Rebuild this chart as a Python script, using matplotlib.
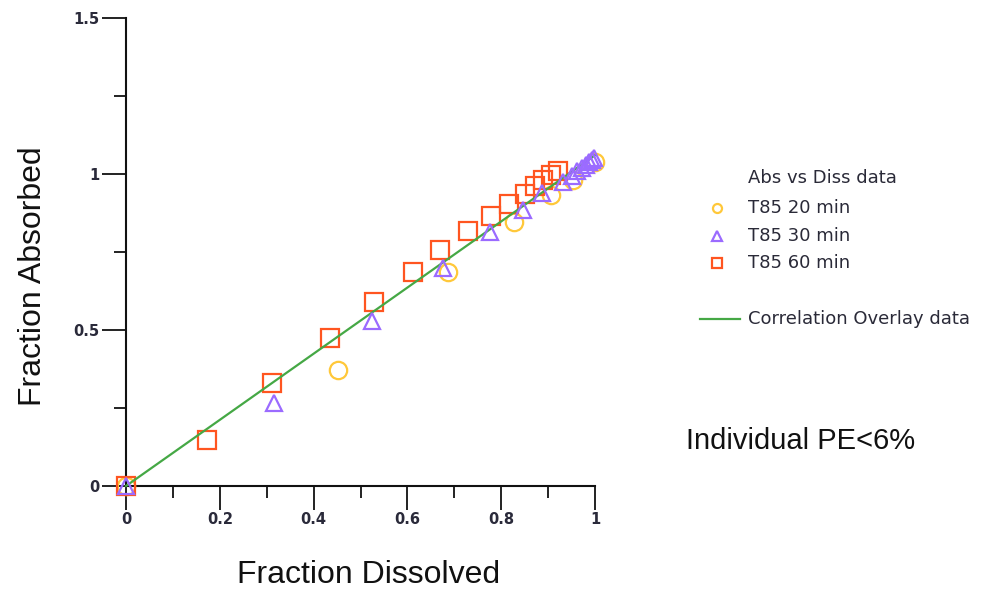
import matplotlib
matplotlib.use("Agg")
import matplotlib.pyplot as plt
from matplotlib.lines import Line2D
from matplotlib.ticker import MultipleLocator, FuncFormatter

# ---- data ----
t20_x = [0.0, 0.452, 0.687, 0.827, 0.906, 0.953, 1.0]
t20_y = [0.0, 0.372, 0.686, 0.846, 0.933, 0.981, 1.038]

t30_x = [0.0, 0.316, 0.525, 0.676, 0.776, 0.846, 0.887, 0.932, 0.950, 0.962, 0.972, 0.980, 0.988, 0.994, 0.998]
t30_y = [0.0, 0.266, 0.530, 0.699, 0.814, 0.885, 0.939, 0.974, 0.995, 1.010, 1.020, 1.030, 1.040, 1.045, 1.050]

t60_x = [0.0, 0.173, 0.311, 0.435, 0.529, 0.612, 0.670, 0.729, 0.778, 0.817, 0.851, 0.872, 0.889, 0.906, 0.921]
t60_y = [0.0, 0.147, 0.330, 0.474, 0.590, 0.686, 0.756, 0.817, 0.865, 0.904, 0.936, 0.962, 0.981, 0.997, 1.010]

corr_x = [0.0, 1.0]
corr_y = [0.0, 1.06]

series_labels = ["T85 20 min", "T85 30 min", "T85 60 min"]
line_label = "Correlation Overlay data"
legend_title = "Abs vs Diss data"
x_label = "Fraction Dissolved"
y_label = "Fraction Absorbed"
note = "Individual PE<6%"

c20 = "#FFC83A"
c30 = "#9B6BFF"
c60 = "#FF5520"
cline = "#45A845"

W, H = 990, 591
fig = plt.figure(figsize=(W / 100, H / 100), dpi=100)
ax = fig.add_axes([126 / W, 1 - 486 / H, (595 - 126) / W, (486 - 18) / H])

ms = 12.5
mew = 1.6
ax.plot(t20_x, t20_y, linestyle="none", marker="o", ms=ms, mfc="none", mec=c20, mew=mew, clip_on=False, zorder=3)
ax.plot(t60_x, t60_y, linestyle="none", marker="s", ms=ms, mfc="none", mec=c60, mew=mew, clip_on=False, zorder=3)
ax.plot(corr_x, corr_y, color=cline, lw=1.6, clip_on=False, zorder=4)
ax.plot(t30_x, t30_y, linestyle="none", marker="^", ms=ms * 0.92, mfc="none", mec=c30, mew=mew, clip_on=False, zorder=5)

ax.set_xlim(0, 1)
ax.set_ylim(0, 1.5)
for s in ["top", "right"]:
    ax.spines[s].set_visible(False)
for s in ["left", "bottom"]:
    ax.spines[s].set_linewidth(1.5)
    ax.spines[s].set_color("#111111")

ax.xaxis.set_major_locator(MultipleLocator(0.2))
ax.xaxis.set_minor_locator(MultipleLocator(0.1))
ax.yaxis.set_major_locator(MultipleLocator(0.5))
ax.yaxis.set_minor_locator(MultipleLocator(0.25))
fmt = FuncFormatter(lambda v, p: ("%g" % round(v, 3)))
ax.xaxis.set_major_formatter(fmt)
ax.yaxis.set_major_formatter(fmt)
ax.tick_params(which="major", direction="out", length=17, width=1.3, color="#111111",
               labelsize=10.5, labelcolor="#2a2a3a", pad=2)
ax.tick_params(which="minor", direction="out", length=8.5, width=1.3, color="#111111")
for lab in ax.get_xticklabels() + ax.get_yticklabels():
    lab.set_fontweight("bold")

fig.text(369 / W, 1 - 575 / H, x_label, ha="center", va="center",
         fontsize=23, family="Liberation Sans", color="#111111")
fig.text(33 / W, 1 - 276 / H, y_label, ha="center", va="center", rotation=90,
         fontsize=23, family="Liberation Sans", color="#111111")
fig.text(686 / W, 1 - 441 / H, note, ha="left", va="center",
         fontsize=21, family="Liberation Sans", color="#111111")

# legend (placed manually to reproduce the original layout)
lfs = 13
lcol = "#2a2a38"
fig.text(748 / W, 1 - 178 / H, legend_title, ha="left", va="center", fontsize=lfs, color=lcol)
markers = ["o", "^", "s"]
colors = [c20, c30, c60]
rows_y = [208, 236, 263]
for lab, mk, col, ry in zip(series_labels, markers, colors, rows_y):
    fig.add_artist(Line2D([717 / W], [1 - ry / H], linestyle="none", marker=mk, ms=6.5,
                          mfc="none", mec=col, mew=1.6, transform=fig.transFigure))
    fig.text(748 / W, 1 - ry / H, lab, ha="left", va="center", fontsize=lfs, color=lcol)
fig.add_artist(Line2D([700 / W, 740 / W], [1 - 319 / H, 1 - 319 / H], color=cline, lw=1.6,
                      transform=fig.transFigure))
fig.text(748 / W, 1 - 319 / H, line_label, ha="left", va="center", fontsize=lfs, color=lcol)

fig.savefig("out.png", dpi=100)
